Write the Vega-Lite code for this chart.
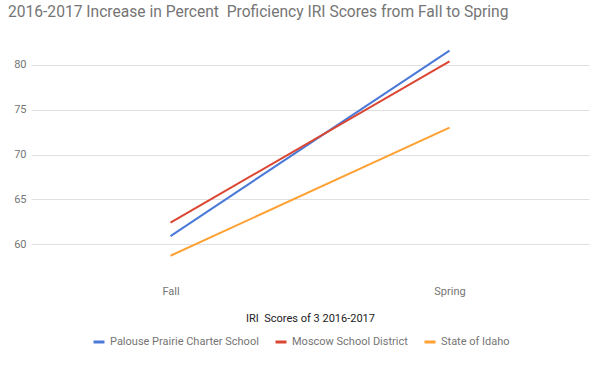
{
  "$schema": "https://vega.github.io/schema/vega-lite/v6.json",
  "width": 558,
  "height": 233,
  "autosize": {"type": "none"},
  "padding": {"left": 31, "top": 38, "right": 15, "bottom": 95},
  "background": "white",
  "title": {
    "text": "2016-2017 Increase in Percent\u00a0 Proficiency IRI Scores from Fall to Spring",
    "anchor": "start",
    "frame": "group",
    "dx": -23,
    "offset": 17,
    "font": "Roboto",
    "fontSize": 15.6,
    "fontWeight": "normal",
    "color": "#757575"
  },
  "data": {
    "values": [
      {"term": "Fall", "group": "Palouse Prairie Charter School", "score": 60.9},
      {"term": "Spring", "group": "Palouse Prairie Charter School", "score": 81.6},
      {"term": "Fall", "group": "Moscow School District", "score": 62.4},
      {"term": "Spring", "group": "Moscow School District", "score": 80.4},
      {"term": "Fall", "group": "State of Idaho", "score": 58.7},
      {"term": "Spring", "group": "State of Idaho", "score": 73.0}
    ]
  },
  "mark": {"type": "line", "strokeWidth": 2},
  "encoding": {
    "x": {
      "field": "term",
      "type": "ordinal",
      "sort": ["Fall", "Spring"],
      "scale": {"type": "point", "padding": 0.5},
      "axis": {
        "title": "IRI\u00a0 Scores of 3 2016-2017",
        "titleFont": "Roboto",
        "titleFontSize": 11,
        "titleFontWeight": "normal",
        "titleColor": "#222222",
        "titlePadding": 16,
        "labelAngle": 0,
        "labelFont": "Roboto",
        "labelFontSize": 11,
        "labelColor": "#757575",
        "labelPadding": 14,
        "domain": false,
        "ticks": false,
        "grid": false
      }
    },
    "y": {
      "field": "score",
      "type": "quantitative",
      "scale": {"domain": [57, 83], "nice": false, "zero": false},
      "axis": {
        "title": null,
        "values": [60, 65, 70, 75, 80],
        "labelFont": "Roboto",
        "labelFontSize": 11,
        "labelColor": "#757575",
        "labelPadding": 5,
        "domain": false,
        "ticks": false,
        "grid": true,
        "gridColor": "#e0e0e0",
        "gridWidth": 1
      }
    },
    "color": {
      "field": "group",
      "type": "nominal",
      "sort": ["Palouse Prairie Charter School", "Moscow School District", "State of Idaho"],
      "scale": {
        "domain": ["Palouse Prairie Charter School", "Moscow School District", "State of Idaho"],
        "range": ["#4a79d8", "#db4632", "#ffa033"]
      },
      "legend": {
        "title": null,
        "orient": "none",
        "legendX": 61,
        "legendY": 297,
        "direction": "horizontal",
        "symbolType": "stroke",
        "symbolStrokeWidth": 3,
        "symbolSize": 121,
        "labelFont": "Roboto",
        "labelFontSize": 11,
        "labelColor": "#757575",
        "columnPadding": 10
      }
    }
  },
  "config": {"view": {"stroke": null}}
}
